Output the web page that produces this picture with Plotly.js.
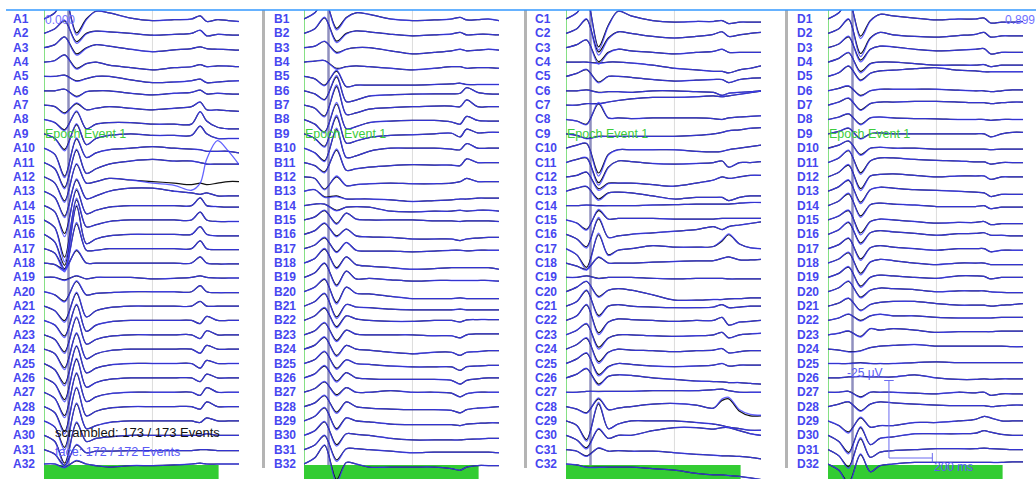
<!DOCTYPE html>
<html><head><meta charset="utf-8">
<script src="https://cdn.plot.ly/plotly-3.0.1.min.js"></script>
<style>html,body{margin:0;padding:0;background:#fff}#chart{width:1036px;height:479px}</style>
</head><body><div id="chart"></div>
<script>
const TIME_MS = [0,50,95,150,195,240,300,400,500,600,680,720,750,800,850,899];
const PANEL_IDS = ['A','B','C','D'];
const EVENT_MS = 113, GRID_MS = 500, BAR_END_MS = 805;
const SCALE_UV = 25, SCALE_MS = 200;

// values in µV (display polarity, up = positive), one row per channel 1..32
const scrA = [
[0,2,7,-4.5,0,2.5,2,0.3,-0.5,-0.2,0,1,-0.8,-0.2,-0.5,-0.8],
[0,1.5,4,-2.7,0,0.7,0.5,0,-0.6,-0.3,0,1,-0.8,-0.3,-0.5,-0.6],
[0,1,3.5,-2,0,1,0.5,-0.5,-1.3,-0.7,-0.3,0.3,-0.3,-0.5,-0.6,-0.8],
[0,0.5,2.3,-2,-0.5,0,-1,-1.8,-2.5,-1.8,-1.5,-0.8,-1.5,-1.2,-1.3,-1.5],
[0,0,0.4,-1.4,-0.7,0,0,-1.1,-2,-1.8,-1.4,-0.9,-2,-1.8,-1.5,-1.4],
[0,0,0.5,-1.8,-0.3,0,0,-0.8,-1.3,-0.8,-0.5,0.2,-1,-0.8,-1,-1.1],
[0,-0.5,-2.5,0.5,-1.5,-1,-0.5,-1,-1.5,-1,-0.5,1,-1.5,-1.5,-1.8,-2],
[0,-1,-3.3,2.5,-3,-1.5,-1,-1,-1.5,-1.5,-1.5,2.5,-0.5,-2.5,-3,-3],
[0,-1.5,-5,3,-3.5,-1.5,-0.5,0,-0.5,-0.5,-0.5,2.5,0,-1.5,-1.5,-1.5],
[0,-2,-9,3,-3,-1.5,-0.5,0,0.5,0,-0.3,-0.5,-1,-1,-1,-1.5],
[0,-2,-8,4,-3.5,-2,-0.5,0.5,1,0.5,0.5,0,-0.5,-0.5,-0.5,-0.5],
[0,-2,-7.7,4,-2,-1.5,-0.5,-1,-1.5,-2,-2.5,-2,-2.5,-2,-1.5,-1.5],
[0,-2,-8,3.7,-2.4,-1.5,0,1,1,0,-0.5,-1,-0.5,-1.5,-1.5,-1.5],
[0,-2,-9,5,-2.6,-1.5,-0.5,0,0,0,0,2.5,0,-0.3,-0.5,-0.5],
[0,-2.5,-12,6.5,-2.2,-1.5,-0.5,0,0,0,0,2.5,0,-0.5,-0.5,-0.5],
[0,-2.5,-10,9,-3,-1.5,-0.5,0,0,0,0,2.5,0,-0.5,-0.5,-0.5],
[0,-1.5,-6.5,8,-0.5,-0.5,0,0,0,0,0,2.5,0,-0.3,-0.3,-0.3],
[0,-0.5,-2,4,0,0,0,0,0,0,0,2,0,-0.3,-0.3,-0.3],
[0,0,-0.8,0.5,-0.5,0,0,0,-0.5,-0.3,0,0.5,0,-0.2,-0.2,-0.2],
[0,-1,-3,3.3,-1,-0.5,-0.3,0,0,0,0,2,0,-0.3,-0.3,-0.3],
[0,-1.5,-4.7,4.2,-3.5,-1.5,-0.5,0,0,0,0,1.5,0,0,0,0],
[0,-1.5,-5,5,-3.5,-1.5,-0.5,0,0,0,0,-1,1.3,0,0,0],
[0,-1.5,-5.5,5.5,-3,-1.5,-0.5,0,0,0,0,-1.2,1.3,0,0,0],
[0,-1.5,-6,5,-3.1,-1.5,-0.5,0,0,0,0,-1.3,1.2,0,0,0],
[0,-2,-6.5,5.5,-3,-1.5,-0.5,0,0,0,0,-1.5,1,0,0,0],
[0,-2,-7,6,-3,-1.5,-0.5,0,0,0,0,-1.2,1.2,0,0,0],
[0,-2,-7.5,6,-3,-1.5,-0.5,0,0,0,0,-1,1.5,0,0,0],
[0,-2,-8,6,-3,-1.5,-0.5,0,0,0,0,-0.8,1.5,0,0,0],
[0,-2,-8.5,5.5,-2.5,-1.5,-0.5,0,0,0,0,-0.5,1,0,0,0],
[0,-2,-9,4,-2,-1,-0.5,0,0,0,0,0,0.5,0,0,0],
[0,-1.5,-5,1.5,-1,-0.5,-0.5,-0.3,-0.3,-0.3,-0.3,0,0,-0.3,-0.3,-0.3],
[0,0,-1,1,0,-0.5,-1,-0.5,-0.5,-0.3,0,0.3,0,0,0,0]];
const faceA = [
[0,2,7.5,-5.2,-0.3,2.5,2,0.3,-0.5,-0.2,0,1,-0.8,-0.2,-0.5,-0.8],
[0,1.5,4.3,-3.2,-0.2,0.7,0.5,0,-0.6,-0.3,0,1,-0.8,-0.3,-0.5,-0.6],
[0,1,3.5,-2.4,-0.2,1,0.5,-0.5,-1.3,-0.7,-0.3,0.3,-0.3,-0.5,-0.6,-0.8],
[0,0.5,2.3,-2.3,-0.5,0,-1,-1.8,-2.5,-1.8,-1.5,-0.8,-1.5,-1.2,-1.3,-1.5],
[0,0,0.4,-1.6,-0.7,0,0,-1.1,-2,-1.8,-1.4,-0.9,-2,-1.8,-1.5,-1.4],
[0,0,0.5,-2,-0.3,0,0,-0.8,-1.3,-0.8,-0.5,0.2,-1,-0.8,-1,-1.1],
[0,-0.5,-2.8,0.7,-1.5,-1,-0.5,-1,-1.5,-1,-0.5,1,-1.5,-1.5,-1.8,-2],
[0,-1,-3.6,2.8,-3,-1.5,-1,-1,-1.5,-1.5,-1.5,2.5,-0.5,-2.5,-3,-3],
[0,-1.5,-5.5,3.3,-3.5,-1.5,-0.5,0,-0.5,-0.5,-0.5,2.5,0,-1.5,-1.5,-1.5],
[0,-2,-9.5,3.3,-3,-1.5,-0.5,0,0.5,0,-0.3,-0.5,-1,-1,-1,-1.5],
[0,-2,-8.5,4.3,-3.5,-2,-0.5,0.5,1,0.5,0.5,0,-0.5,-0.5,-0.5,-0.5],
[0,-2,-8.2,4.3,-2,-1.5,-0.5,-1,-2,-2.7,-4.3,-2,5.7,11.7,8.3,4],
[0,-2,-8.5,4,-2.4,-1.5,0,1,1,0,-0.5,-1,-0.5,-1.5,-1.5,-1.5],
[0,-2,-10,5.5,-2.6,-1.5,-0.5,0,0,0,0,2.5,0,-0.3,-0.5,-0.5],
[0,-2.5,-13.5,7,-2.2,-1.5,-0.5,0,0,0,0,2.5,0,-0.5,-0.5,-0.5],
[0,-2.5,-11.5,9.5,-3,-1.5,-0.5,0,0,0,0,2.5,0,-0.5,-0.5,-0.5],
[0,-1.5,-7.5,8.5,-0.5,-0.5,0,0,0,0,0,2.5,0,-0.3,-0.3,-0.3],
[0,-0.5,-2.5,4.3,0,0,0,0,0,0,0,2,0,-0.3,-0.3,-0.3],
[0,0,-1,0.6,-0.5,0,0,0,-0.5,-0.3,0,0.5,0,-0.2,-0.2,-0.2],
[0,-1,-3.3,3.6,-1,-0.5,-0.3,0,0,0,0,2,0,-0.3,-0.3,-0.3],
[0,-1.5,-5.2,4.5,-3.5,-1.5,-0.5,0,0,0,0,1.5,0,0,0,0],
[0,-1.5,-5.5,5.3,-3.5,-1.5,-0.5,0,0,0,0,-1,1.3,0,0,0],
[0,-1.5,-6,5.8,-3,-1.5,-0.5,0,0,0,0,-1.2,1.3,0,0,0],
[0,-1.5,-6.6,5.3,-3.1,-1.5,-0.5,0,0,0,0,-1.3,1.2,0,0,0],
[0,-2,-7.2,5.8,-3,-1.5,-0.5,0,0,0,0,-1.5,1,0,0,0],
[0,-2,-7.7,6.3,-3,-1.5,-0.5,0,0,0,0,-1.2,1.2,0,0,0],
[0,-2,-8.2,6.3,-3,-1.5,-0.5,0,0,0,0,-1,1.5,0,0,0],
[0,-2,-8.8,6.3,-3,-1.5,-0.5,0,0,0,0,-0.8,1.5,0,0,0],
[0,-2,-9.3,5.8,-2.5,-1.5,-0.5,0,0,0,0,-0.5,1,0,0,0],
[0,-2,-10,4.3,-2,-1,-0.5,0,0,0,0,0,0.5,0,0,0],
[0,-1.5,-5.5,1.7,-1,-0.5,-0.5,-0.3,-0.3,-0.3,-0.3,0,0,-0.3,-0.3,-0.3],
[0,0,-1.2,1.2,0,-0.5,-1,-0.5,-0.5,-0.3,0,0.3,0,0,0,0]];

const scrB = [
[0,2,6,-3,0.5,2,1.5,0,-0.5,-0.3,0,0.5,-0.3,-0.2,0,-0.5],
[0,1.5,5,-2.5,0,0.8,0.5,-0.3,-0.8,-0.5,-0.2,0.3,-0.5,-0.3,-0.3,-0.5],
[0,0.5,2,-1.5,-0.5,0,0,-1,-2,-1.5,-1,-0.5,-1,-0.8,-0.5,-0.8],
[0,0.3,0.5,-2,-1.5,-1.2,-1.5,-2,-2.5,-2,-1.5,-1.5,-2,-1.8,-1.8,-2],
[0,-0.8,-2.8,1.7,-3.3,-2.8,-2.8,-2.8,-2.8,-2.6,-2.4,-2.2,-2.6,-2.6,-2.6,-2.6],
[0,-1,-2.8,4.5,-3.5,-3,-1.7,-1.3,-1.1,-1,-1,-0.8,1,-0.5,-1,-1.1],
[0,-1,-3.5,6,-3,-2.5,-1.3,-0.8,-0.5,-0.3,-0.3,-0.5,1.7,-0.5,-0.5,-0.5],
[0,-1.5,-4,5,-3,-2.3,-1,-0.5,-0.3,-0.3,-0.8,-1.5,1,-0.3,-0.5,-0.5],
[0,-1.5,-4,5.5,-3,-2.3,-1.2,-0.5,-0.3,0,0.2,-1,1.5,0.3,0.5,0.5],
[0,-1.5,-4,6,-3,-2.5,-1,0,0,0,-0.3,-0.5,1.5,0,0,0],
[0,-1,-3,4,-2.5,-2,-1.5,-1,-0.7,-0.8,-0.8,-1,1.2,0,0,0],
[0,-0.5,-3.9,0,-2.8,-2.5,-2.2,-2,-2.2,-2.2,-2,-1.5,-0.5,-1.5,-1.5,-1.5],
[0,0.5,-1.8,-1.5,-2.5,-2.5,-2.5,-2.8,-3.3,-3,-2.8,-2.5,-2.5,-2.2,-2.2,-2.2],
[0,0.5,0.5,-1.5,-0.5,-0.3,-0.5,-1.8,-2,-1.8,-1.8,-1.5,-1.8,-1.5,-1.5,-1.8],
[0,1,3,-1.1,2.2,0.3,0,0,0,-0.3,-0.3,-0.5,-0.3,-0.3,-0.3,-0.5],
[0,1.2,3.5,-0.5,1.7,-0.5,-0.8,-1,-1.5,-1.5,-1.5,-2,-1.5,-1.2,-1,-1],
[0,1.2,3.5,-1,2,-0.5,-0.8,-0.8,-1,-0.8,-0.5,-0.5,-0.7,-0.5,-0.5,-0.5],
[0,1.5,4.5,-1.5,2,-0.5,-1,-1.5,-2,-1.8,-1.5,-1.5,-1.5,-1.5,-1.5,-2],
[0,1.5,4.5,-2.5,2,-0.5,-0.3,-0.8,-1.2,-1,-1,-1,-1,-1,-1,-1.2],
[0,1.5,4,-3.5,1.5,-0.5,-0.7,-1.5,-2.2,-2.2,-2.2,-2,-2.2,-2.2,-2.2,-2.2],
[0,1.5,4,-3.5,0.5,-0.3,-0.5,-1,-1.2,-1.2,-1.2,-1,-1.2,-1.2,-1.2,-1.2],
[0,1.5,4,-2,1.5,0.5,0,-0.3,-0.3,0,0,-0.5,0.2,0.3,0.3,0.3],
[0,1.3,3.8,-1.8,1.5,0.2,0,0,0,-0.3,-0.3,-1,0,0.3,0.3,0.3],
[0,1.3,3.8,-2,1.2,0,-0.3,-1,-1.5,-1,-1,-2,-1,-0.8,-0.5,-0.5],
[0,1.3,3.8,-1.5,1.2,0,-0.3,-0.8,-1.1,-1.1,-1.1,-2.2,-1,-0.8,-0.6,-0.6],
[0,1.3,3.8,-1,1.7,0,-0.3,-0.5,-0.5,-0.5,-0.8,-2,-0.8,-0.3,0,0],
[0,1.2,3.3,-0.8,1.5,0,0,0.5,0,0,-0.3,-1.5,-0.5,0,0,0],
[0,1.2,3.5,-1.8,1.5,0,-0.5,-0.8,-1,-1,-1.2,-2,-1,-0.5,-0.3,0],
[0,1.5,4.2,-2.5,1,0,-0.3,-1,-1.2,-1.2,-1.2,-1.5,-1,-0.8,-0.6,-0.6],
[0,1.5,4.3,-3,0.5,0.3,0,-1,-1.5,-1.5,-1.5,-1.5,-1.3,-1.2,-1,-1],
[0,1.5,4.5,-3.3,0.3,0.3,0,-0.5,-1,-0.8,-0.8,-0.8,-0.8,-0.8,-0.8,-1],
[0,2,6,-5,0.5,0,-1,-1,-1,-1,-1.5,-2,-1,-0.5,-0.5,-0.5]];
const faceB = [
[0,2,6.3,-3.5,0.3,2,1.5,0,-0.5,-0.3,0,0.5,-0.3,-0.2,0,-0.5],
[0,1.5,5.2,-3,-0.2,0.8,0.5,-0.3,-0.8,-0.5,-0.2,0.3,-0.5,-0.3,-0.3,-0.5],
[0,0.5,2.1,-1.8,-0.5,0,0,-1,-2,-1.5,-1,-0.5,-1,-0.8,-0.5,-0.8],
[0,0.3,0.5,-2.3,-1.5,-1.2,-1.5,-2,-2.5,-2,-1.5,-1.5,-2,-1.8,-1.8,-2],
[0,-0.8,-3,2,-3.3,-2.8,-2.8,-2.8,-2.8,-2.6,-2.4,-2.2,-2.6,-2.6,-2.6,-2.6],
[0,-1,-3,5,-3.5,-3,-1.7,-1.3,-1.1,-1,-1,-0.8,1,-0.5,-1,-1.1],
[0,-1,-3.8,6.5,-3,-2.5,-1.3,-0.8,-0.5,-0.3,-0.3,-0.5,1.7,-0.5,-0.5,-0.5],
[0,-1.5,-4.3,5.5,-3,-2.3,-1,-0.5,-0.3,-0.3,-0.8,-1.5,1,-0.3,-0.5,-0.5],
[0,-1.5,-4.3,6,-3,-2.3,-1.2,-0.5,-0.3,0,0.2,-1,1.5,0.3,0.5,0.5],
[0,-1.5,-4.3,6.5,-3,-2.5,-1,0,0,0,-0.3,-0.5,1.5,0,0,0],
[0,-1,-3.3,4.4,-2.5,-2,-1.5,-1,-0.7,-0.8,-0.8,-1,1.2,0,0,0],
[0,-0.5,-4.2,0.3,-2.8,-2.5,-2.2,-2,-2.2,-2.2,-2,-1.5,-0.5,-1.5,-1.5,-1.5],
[0,0.5,-2,-1.7,-2.5,-2.5,-2.5,-2.8,-3.3,-3,-2.8,-2.5,-2.5,-2.2,-2.2,-2.2],
[0,0.5,0.5,-1.7,-0.5,-0.3,-0.5,-1.8,-2,-1.8,-1.8,-1.5,-1.8,-1.5,-1.5,-1.8],
[0,1,3.2,-1.4,2.2,0.3,0,0,0,-0.3,-0.3,-0.5,-0.3,-0.3,-0.3,-0.5],
[0,1.2,3.7,-0.8,1.7,-0.5,-0.8,-1,-1.5,-1.5,-1.5,-2,-1.5,-1.2,-1,-1],
[0,1.2,3.7,-1.3,2,-0.5,-0.8,-0.8,-1,-0.8,-0.5,-0.5,-0.7,-0.5,-0.5,-0.5],
[0,1.5,4.7,-1.9,2,-0.5,-1,-1.5,-2,-1.8,-1.5,-1.5,-1.5,-1.5,-1.5,-2],
[0,1.5,4.7,-2.9,2,-0.5,-0.3,-0.8,-1.2,-1,-1,-1,-1,-1,-1,-1.2],
[0,1.5,4.2,-4,1.5,-0.5,-0.7,-1.5,-2.2,-2.2,-2.2,-2,-2.2,-2.2,-2.2,-2.2],
[0,1.5,4.2,-4,0.5,-0.3,-0.5,-1,-1.2,-1.2,-1.2,-1,-1.2,-1.2,-1.2,-1.2],
[0,1.5,4.2,-2.4,1.5,0.5,0,-0.3,-0.3,0,0,-0.5,0.2,0.3,0.3,0.3],
[0,1.3,4,-2.2,1.5,0.2,0,0,0,-0.3,-0.3,-1,0,0.3,0.3,0.3],
[0,1.3,4,-2.4,1.2,0,-0.3,-1,-1.5,-1,-1,-2,-1,-0.8,-0.5,-0.5],
[0,1.3,4,-1.9,1.2,0,-0.3,-0.8,-1.1,-1.1,-1.1,-2.2,-1,-0.8,-0.6,-0.6],
[0,1.3,4,-1.4,1.7,0,-0.3,-0.5,-0.5,-0.5,-0.8,-2,-0.8,-0.3,0,0],
[0,1.2,3.5,-1.2,1.5,0,0,0.5,0,0,-0.3,-1.5,-0.5,0,0,0],
[0,1.2,3.7,-2.2,1.5,0,-0.5,-0.8,-1,-1,-1.2,-2,-1,-0.5,-0.3,0],
[0,1.5,4.4,-2.9,1,0,-0.3,-1,-1.2,-1.2,-1.2,-1.5,-1,-0.8,-0.6,-0.6],
[0,1.5,4.5,-3.5,0.5,0.3,0,-1,-1.5,-1.5,-1.5,-1.5,-1.3,-1.2,-1,-1],
[0,1.5,4.7,-3.8,0.3,0.3,0,-0.5,-1,-0.8,-0.8,-0.8,-0.8,-0.8,-0.8,-1],
[0,2,6.2,-6,0.5,0,-1,-1,-1,-1,-1.5,-2,-1,-0.5,-0.5,-0.5]];

const scrC = [
[0,2,6,-9,-2,2.5,1,-0.5,-1,-0.8,-0.8,-0.5,-1.5,-1,-1,-1],
[0,1.5,4.5,-6,-1.5,0.5,0,-1,-1.5,-1,-0.3,0.5,-1,-0.5,0,0.3],
[0,1,2.5,-4.5,-1.5,-0.5,-1,-1.5,-2,-1.5,-1.2,-0.5,-1.5,-1.5,-1.5,-1.5],
[0,0,0,-0.3,0,0,-0.3,-1,-2,-2.5,-3,-3,-3.5,-2.5,-2,-1.2],
[0,1,2.2,-1.8,0,0,-0.3,-1,-1.5,-1.2,-1,-1,-2,-1,-0.6,-0.5],
[0,0,0.3,-0.5,-0.3,-0.3,-0.5,0,0,-0.3,-0.5,-1.5,-0.8,-0.5,-0.3,0],
[0,0,0.5,0.5,1,1.5,2,2.5,2.5,2.7,3,2.7,3,3.5,4,4.5],
[0,-0.5,-1.5,5,0.5,0.5,0.3,0.5,0.5,0.5,0.3,0,0.5,0.8,1,1.2],
[0,-0.5,-1.5,-0.8,-0.8,-0.8,-0.8,-0.8,-0.8,-0.5,0,0.5,1,1.3,1.8,2],
[0,1,1.5,-8,-2,-0.5,-0.5,-0.5,-0.5,-1,-1.2,-1,-0.5,0,0.5,1],
[0,1,1.5,-6.5,-1.5,0.5,0.3,-0.3,-0.5,-0.3,0,0.5,-1.5,0,0,0.3],
[0,0.5,1.5,-3.8,-2,-2,-2,-2.5,-3,-2,-1,0,-0.5,0,0.5,0.5],
[0,1,1.5,-2.5,-0.5,-0.3,-0.5,-1.5,-2.5,-2,-2,-2,-3,-2,-1.5,-1.5],
[0,0,0.2,0,0,0,0,0.2,0.3,0.5,0.5,0.5,0.5,0.8,1,1],
[0,-1,-3,3,0.3,0.5,0.5,0.5,0.3,0.3,0.3,0.5,0.5,0.5,0.5,0.5],
[0,-1.5,-4,5,-1,-0.5,0,0.5,1,1.5,2.5,1.5,2.5,3,3.5,4],
[0,-2,-6,4.5,-2,-0.5,0,1,0.5,0.5,0.7,2.5,4.5,1.5,0.3,0],
[0,-1,-2,1.8,0,0,0,0.3,0.5,0.7,0.8,1.5,2,1,1,1.2],
[0,0,0.5,-0.3,0,0,0,-0.3,-0.5,-0.3,-0.3,-0.3,-0.5,-0.5,-0.5,-0.5],
[0,1.5,3.3,-1.5,0.5,1,0.5,-1,-2.7,-2.7,-2.5,-2.5,-2.3,-2.2,-2,-2],
[0,1.5,5,-3,0,0.5,0,-0.3,-0.5,-0.5,-0.3,0.5,-0.5,-0.3,0,0],
[0,1.5,5,-4,-0.5,0.5,0.3,0,-0.3,0,0,1,-1.5,-0.5,-0.3,0],
[0,1.5,3.5,-4,-1,0,0,-0.3,-0.5,-0.3,0,0.8,-1,0,0.3,0.5],
[0,1.5,3.5,-4,-1,0,-0.3,-0.5,-0.8,-0.5,-0.3,0.2,-1.2,-0.8,-0.5,-0.5],
[0,1.5,3.3,-3.5,-1,0,-0.3,-0.8,-1,-0.8,-0.5,0,-0.8,-0.5,-0.5,-0.5],
[0,1.2,3,-2,0.5,1,0.8,0,-0.5,-1,-1.2,-1.3,-1.5,-1.5,-1.8,-2],
[0,0,0.3,0.3,0.3,0.3,0.3,0.5,0.5,0.5,0.8,1,0.5,0,0,0],
[0,-0.8,-2,2.5,-1,-0.5,0,0.8,1,0.5,-0.5,2,2.5,-1.5,-3,-3],
[0,-1.5,-6,5.5,-2.5,-1,0,0,0,-0.5,-1,-1.5,-2,-2.5,-3,-3],
[0,-1.5,-4,2,-1,0,0,1.5,2.5,2.5,2,2.5,2.5,1.5,0.5,0],
[0,-0.5,-2,0.5,-0.5,-0.3,-0.5,-0.5,-1,-1.5,-1.8,-2,-2,-2.2,-2.5,-3],
[0,-0.3,-1,-1,-1,-1,-1,-1.5,-2,-3,-3.5,-3.5,-3.7,-4,-4.5,-5]];
const faceC = [
[0,2,6.3,-10,-2.3,2.5,1,-0.5,-1,-0.8,-0.8,-0.5,-1.5,-1,-1,-1],
[0,1.5,4.7,-7,-1.8,0.5,0,-1,-1.5,-1,-0.3,0.5,-1,-0.5,0,0.3],
[0,1,2.6,-5.3,-1.7,-0.5,-1,-1.5,-2,-1.5,-1.2,-0.5,-1.5,-1.5,-1.5,-1.5],
[0,0,0,-0.5,0,0,-0.3,-1,-2,-2.5,-3,-3,-3.5,-2.5,-2,-1.2],
[0,1,2.3,-2.1,0,0,-0.3,-1,-1.5,-1.2,-1,-1,-2,-1,-0.6,-0.5],
[0,0,0.3,-0.6,-0.3,-0.3,-0.5,0,0,-0.3,-0.5,-1.5,-0.8,-0.5,-0.3,0],
[0,0,0.5,0.4,1,1.5,2,2.5,2.5,2.7,3,2.7,3,3.5,4,4.5],
[0,-0.5,-1.7,5.5,0.5,0.5,0.3,0.5,0.5,0.5,0.3,0,0.5,0.8,1,1.2],
[0,-0.5,-1.6,-0.9,-0.8,-0.8,-0.8,-0.8,-0.8,-0.5,0,0.5,1,1.3,1.8,2],
[0,1,1.6,-9,-2.2,-0.5,-0.5,-0.5,-0.5,-1,-1.2,-1,-0.5,0,0.5,1],
[0,1,1.6,-7.3,-1.7,0.5,0.3,-0.3,-0.5,-0.3,0,0.5,-1.5,0,0,0.3],
[0,0.5,1.6,-4.3,-2.2,-2,-2,-2.5,-3,-2,-1,0,-0.5,0,0.5,0.5],
[0,1,1.6,-2.9,-0.6,-0.3,-0.5,-1.5,-2.5,-2,-2,-2,-3,-2,-1.5,-1.5],
[0,0,0.2,-0.1,0,0,0,0.2,0.3,0.5,0.5,0.5,0.5,0.8,1,1],
[0,-1,-3.3,3.4,0.3,0.5,0.5,0.5,0.3,0.3,0.3,0.5,0.5,0.5,0.5,0.5],
[0,-1.5,-4.4,5.5,-1,-0.5,0,0.5,1,1.5,2.5,1.5,2.5,3,3.5,4],
[0,-2,-6.8,5,-2.2,-0.5,0,1,0.5,0.5,0.7,2.8,4.8,1.5,0.3,0],
[0,-1,-2.3,2,0,0,0,0.3,0.5,0.7,0.8,1.5,2,1,1,1.2],
[0,0,0.5,-0.4,0,0,0,-0.3,-0.5,-0.3,-0.3,-0.3,-0.5,-0.5,-0.5,-0.5],
[0,1.5,3.4,-1.8,0.5,1,0.5,-1,-2.7,-2.7,-2.5,-2.5,-2.3,-2.2,-2,-2],
[0,1.5,5.2,-3.5,0,0.5,0,-0.3,-0.5,-0.5,-0.3,0.5,-0.5,-0.3,0,0],
[0,1.5,5.2,-4.6,-0.6,0.5,0.3,0,-0.3,0,0,1,-1.5,-0.5,-0.3,0],
[0,1.5,3.7,-4.6,-1.1,0,0,-0.3,-0.5,-0.3,0,0.8,-1,0,0.3,0.5],
[0,1.5,3.7,-4.6,-1.1,0,-0.3,-0.5,-0.8,-0.5,-0.3,0.2,-1.2,-0.8,-0.5,-0.5],
[0,1.5,3.5,-4,-1.1,0,-0.3,-0.8,-1,-0.8,-0.5,0,-0.8,-0.5,-0.5,-0.5],
[0,1.2,3.1,-2.4,0.5,1,0.8,0,-0.5,-1,-1.2,-1.3,-1.5,-1.5,-1.8,-2],
[0,0,0.3,0.2,0.3,0.3,0.3,0.5,0.5,0.5,0.8,1,0.5,0,0,0],
[0,-0.8,-2.2,2.8,-1,-0.5,0,0.8,1,0.5,-0.5,2.5,3,-1,-2.5,-2.8],
[0,-1.5,-6.5,6,-2.5,-1,0,0,0,-0.5,-1,-1.5,-2,-2.5,-3,-3],
[0,-1.5,-4.4,2.2,-1,0,0,1.5,2.5,2.5,2,2.5,2.5,1.5,0.5,0],
[0,-0.5,-2.2,0.6,-0.5,-0.3,-0.5,-0.5,-1,-1.5,-1.8,-2,-2,-2.2,-2.5,-3],
[0,-0.3,-1.1,-1.1,-1,-1,-1,-1.5,-2,-3,-3.5,-3.5,-3.7,-4,-4.5,-5]];

const scrD = [
[0,2,6,-5.5,-0.5,1.5,1,0.3,-0.3,0,0,0.3,-1.3,-1,-1,-0.8],
[0,1.5,4.5,-6.5,-1.5,0.3,-0.5,-1,-1.2,-0.7,-0.3,0.3,-1.2,-0.8,-0.8,-0.8],
[0,1.2,3.5,-4,-0.5,0.5,0.3,-0.5,-1,-0.8,-0.5,-0.3,-2,-1.5,-1.5,-1.5],
[0,1.2,3,-3,-0.5,0,0,-0.5,-1,-1,-1,-0.8,-1.5,-1,-1,-1],
[0,1.2,3.3,-1.2,1,1.8,2,2.5,2.8,2,1.8,1.5,1.5,1.5,1.5,1.5],
[0,0.8,1.5,-1.5,0,0.5,0.5,0.5,0.5,0.2,0,0,-0.3,0,0.3,0.3],
[0,1,2.2,-1.5,0.5,1,1,1.2,1.2,1,0.8,0.8,0.5,0.8,1,1],
[0,0.8,1.8,-1.5,0.5,0.8,0.5,0.3,0.2,0,0,0,-0.3,0,0,0],
[0,0.8,1.8,-1.5,0,0.3,0,0,0,0,0,0,-1,0,0.5,0.5],
[0,1,2.3,-2,0,0.3,0,0,-0.3,-0.3,-0.3,-0.3,-0.5,-0.3,-0.3,-0.3],
[0,1.5,3.8,-3.3,0.5,1.5,1.5,1,0.7,0.5,0.2,0.2,-0.5,0,0,0],
[0,1.5,3.8,-3.8,0.3,0.8,1,0.5,0,0.3,0.3,0.3,-0.8,0,0,0],
[0,1.5,3.5,-3.5,0.5,1.3,1,0.5,0.3,0,-0.3,-0.5,-1.7,-1,-1,-1],
[0,1.5,3.8,-3.3,0.3,0.8,0.5,0.2,-0.3,-0.3,-0.3,0,-1,-0.5,-0.5,-0.5],
[0,1.3,3,-4.2,-0.5,0.3,0,-0.5,-1,-0.8,-0.8,-0.5,-1.5,-1.2,-1.2,-1.2],
[0,1.5,3.8,-2.8,0.5,1.2,0.8,0.3,-0.3,0.2,0.3,0.5,-0.3,-0.3,-0.5,-0.5],
[0,1.3,3.3,-3.3,0.3,1,0.5,0,-0.5,0,0,0,-1,-0.5,-0.5,-0.5],
[0,1.3,3.3,-3.3,0.3,1.2,0.8,0,-0.5,0,0,0,-0.5,-0.5,-0.5,-0.5],
[0,1.3,3.3,-2.8,0,0.7,0.5,0,-0.3,0.5,0.5,0.3,-0.5,0,0,0],
[0,1.3,3.3,-1.7,0.5,1.2,1,0.7,0,0.3,0.3,0.3,0,-0.2,-0.3,-0.3],
[0,1,2.5,-1.3,0.5,1.2,1.5,1.5,0.8,0.3,0.3,0.3,0,0.3,0.5,0.8],
[0,0.8,2,0,1.5,2,1.5,1.5,1,0.8,0.8,0.8,0.8,1,1,1],
[0,0.5,1.2,-0.5,2,1.5,2,1.5,0.8,1,1,1,1,1.2,1.2,1.2],
[0,-0.3,-0.8,-0.5,0.5,1,1.2,1.5,1,1,1,1,1,1,0.8,0.8],
[0,0,0,0.3,0,0,0,0.3,0.5,0.3,0.3,0.3,0.3,0.3,0.3,0.3],
[0,0,0.3,0.5,0.3,0.3,0.3,1,0,-0.5,-0.5,-0.3,-0.5,-0.3,-0.3,-0.3],
[0,0,0.3,-1.5,0,0,0,-0.3,-0.5,0,-0.2,0,-1,-0.5,-0.5,-0.5],
[0,0.8,1.5,-1.3,0.8,1.5,1.2,0.8,0.5,0.3,0.3,0.3,0,0.3,0.5,0.5],
[0,-1.5,-3.5,1,-2,-1.5,-1.5,-0.5,-0.5,0,0.5,1.5,1,0,0,0],
[0,-2,-5.5,2.5,-3,-1,-0.5,0.5,0.5,0.5,0.7,1.5,1,0.3,0,0],
[0,-2,-5.5,3.5,-2.5,-0.8,-0.3,0,0.3,0.3,0.3,0.5,0.3,0.2,0,0],
[0,-2,-6,3,-2.5,-0.5,0,0.5,0.5,0.5,0.5,0.5,0.5,0.5,0.7,0.7]];
const faceD = [
[0,2,6.3,-6.3,-0.7,1.5,1,0.3,-0.3,0,0,0.3,-1.3,-1,-1,-0.8],
[0,1.5,4.7,-7.5,-1.7,0.3,-0.5,-1,-1.2,-0.7,-0.3,0.3,-1.2,-0.8,-0.8,-0.8],
[0,1.2,3.7,-4.6,-0.6,0.5,0.3,-0.5,-1,-0.8,-0.5,-0.3,-2,-1.5,-1.5,-1.5],
[0,1.2,3.1,-3.5,-0.6,0,0,-0.5,-1,-1,-1,-0.8,-1.5,-1,-1,-1],
[0,1.2,3.4,-1.4,1,1.8,2,2.5,2.8,2,1.8,1.5,1.5,1.5,1.5,1.5],
[0,0.8,1.6,-1.7,0,0.5,0.5,0.5,0.5,0.2,0,0,-0.3,0,0.3,0.3],
[0,1,2.3,-1.7,0.5,1,1,1.2,1.2,1,0.8,0.8,0.5,0.8,1,1],
[0,0.8,1.9,-1.7,0.5,0.8,0.5,0.3,0.2,0,0,0,-0.3,0,0,0],
[0,0.8,1.9,-1.7,0,0.3,0,0,0,0,0,0,-1,0,0.5,0.5],
[0,1,2.4,-2.3,0,0.3,0,0,-0.3,-0.3,-0.3,-0.3,-0.5,-0.3,-0.3,-0.3],
[0,1.5,4,-3.8,0.5,1.5,1.5,1,0.7,0.5,0.2,0.2,-0.5,0,0,0],
[0,1.5,4,-4.4,0.3,0.8,1,0.5,0,0.3,0.3,0.3,-0.8,0,0,0],
[0,1.5,3.7,-4,0.5,1.3,1,0.5,0.3,0,-0.3,-0.5,-1.7,-1,-1,-1],
[0,1.5,4,-3.8,0.3,0.8,0.5,0.2,-0.3,-0.3,-0.3,0,-1,-0.5,-0.5,-0.5],
[0,1.3,3.2,-4.8,-0.6,0.3,0,-0.5,-1,-0.8,-0.8,-0.5,-1.5,-1.2,-1.2,-1.2],
[0,1.5,4,-3.2,0.5,1.2,0.8,0.3,-0.3,0.2,0.3,0.5,-0.3,-0.3,-0.5,-0.5],
[0,1.3,3.5,-3.8,0.3,1,0.5,0,-0.5,0,0,0,-1,-0.5,-0.5,-0.5],
[0,1.3,3.5,-3.8,0.3,1.2,0.8,0,-0.5,0,0,0,-0.5,-0.5,-0.5,-0.5],
[0,1.3,3.5,-3.2,0,0.7,0.5,0,-0.3,0.5,0.5,0.3,-0.5,0,0,0],
[0,1.3,3.5,-2,0.5,1.2,1,0.7,0,0.3,0.3,0.3,0,-0.2,-0.3,-0.3],
[0,1,2.6,-1.5,0.5,1.2,1.5,1.5,0.8,0.3,0.3,0.3,0,0.3,0.5,0.8],
[0,0.8,2.1,-0.2,1.5,2,1.5,1.5,1,0.8,0.8,0.8,0.8,1,1,1],
[0,0.5,1.3,-0.7,2,1.5,2,1.5,0.8,1,1,1,1,1.2,1.2,1.2],
[0,-0.3,-0.9,-0.6,0.5,1,1.2,1.5,1,1,1,1,1,1,0.8,0.8],
[0,0,0,0.2,0,0,0,0.3,0.5,0.3,0.3,0.3,0.3,0.3,0.3,0.3],
[0,0,0.3,0.4,0.3,0.3,0.3,1,0,-0.5,-0.5,-0.3,-0.5,-0.3,-0.3,-0.3],
[0,0,0.3,-1.7,0,0,0,-0.3,-0.5,0,-0.2,0,-1,-0.5,-0.5,-0.5],
[0,0.8,1.6,-1.5,0.8,1.5,1.2,0.8,0.5,0.3,0.3,0.3,0,0.3,0.5,0.5],
[0,-1.5,-3.9,1.2,-2,-1.5,-1.5,-0.5,-0.5,0,0.5,1.5,1,0,0,0],
[0,-2,-6,2.8,-3,-1,-0.5,0.5,0.5,0.5,0.7,1.5,1,0.3,0,0],
[0,-2,-6,3.9,-2.5,-0.8,-0.3,0,0.3,0.3,0.3,0.5,0.3,0.2,0,0],
[0,-2,-6.6,3.3,-2.5,-0.5,0,0.5,0.5,0.5,0.5,0.5,0.5,0.5,0.7,0.7]];

const SCR_DATA = [scrA, scrB, scrC, scrD];
const FACE_DATA = [faceA, faceB, faceC, faceD];

// ---------- geometry ----------
const W = 1036, H = 479, TOP = 10;
const ROW_PX = 14.355, PX_PER_UV = 3.1;
const PANEL_X0 = [44, 304, 566, 828];     // left edge of the traces (t = 0)
const LABEL_X = [10.5, 271.5, 533, 795];
const SEP_X = [262, 524, 785];
const PANEL_W = 195;                       // 899 ms
const yTop = (19 - TOP) / ROW_PX;
const yBot = yTop - (H - TOP) / ROW_PX;
const yPx = p => yTop - (p - TOP) / ROW_PX;
const K = PX_PER_UV / ROW_PX;

const traces = [];
const layout = {
  width: W, height: H, margin: {l:0, r:0, t:TOP, b:0},
  paper_bgcolor: '#fff', plot_bgcolor: '#fff', showlegend: false,
  yaxis: {domain:[0,1], range:[yBot, yTop], visible:false, fixedrange:true},
  shapes: [], annotations: [],
  font: {family: 'Liberation Sans, Arial, sans-serif'}
};
const blue = '#4646f0';

PANEL_IDS.forEach((id, pi) => {
  const ax = pi === 0 ? 'x' : 'x' + (pi + 1);
  const axKey = pi === 0 ? 'xaxis' : 'xaxis' + (pi + 1);
  layout[axKey] = {domain:[PANEL_X0[pi] / W, (PANEL_X0[pi] + PANEL_W) / W], range:[0, 899],
                   visible:false, fixedrange:true, anchor:'y'};
  const bandTop = yPx(465);
  layout.shapes.push(
    {type:'rect', xref:ax, yref:'y', x0:0, x1:BAR_END_MS, y0:yBot, y1:bandTop, layer:'below',
     fillcolor:'#33cc33', line:{width:0}},
    {type:'line', xref:ax, yref:'y', x0:GRID_MS, x1:GRID_MS, y0:bandTop, y1:yTop, layer:'below',
     line:{color:'#dcdcdc', width:1}},
    {type:'line', xref:ax, yref:'y', x0:EVENT_MS, x1:EVENT_MS, y0:bandTop, y1:yTop, layer:'below',
     line:{color:'#8f8fbf', width:2.5}},
    {type:'line', xref:ax, yref:'y', x0:0, x1:0, y0:bandTop, y1:yTop, layer:'below',
     line:{color:'#33cc33', width:1.2}}
  );
  [[SCR_DATA[pi], '#111111', 1.2, 1], [FACE_DATA[pi], '#3c3cff', 1.3, 0.8]].forEach(([rows, color, w, op]) => {
    rows.forEach((row, k) => {
      traces.push({type:'scatter', mode:'lines', x:TIME_MS, y:row.map(v => -k + v * K),
        xaxis:ax, yaxis:'y', opacity:op, hoverinfo:'skip',
        line:{color:color, width:w, shape:'spline', smoothing:0.9}});
    });
  });
  for (let k = 0; k < 32; k++) {
    layout.annotations.push({xref:'paper', yref:'y', x:LABEL_X[pi] / W, y:-k, xanchor:'left', yanchor:'middle',
      showarrow:false, text:'<b>' + id + (k + 1) + '</b>', font:{size:12, color:blue}});
  }
  layout.annotations.push({xref:'paper', yref:'y', x:(PANEL_X0[pi] - 1) / W, y:-8, xanchor:'left', yanchor:'middle',
    showarrow:false, text:'Epoch Event 1', font:{size:12.5, color:'#3ccc3c'}});
});

// panel separators and top border
SEP_X.forEach(x => layout.shapes.push({type:'rect', xref:'paper', yref:'paper', x0:x / W, x1:(x + 3) / W,
  y0:(H - 468) / (H - TOP), y1:1, fillcolor:'#b4b4b4', line:{width:0}}));
layout.shapes.push({type:'line', xref:'paper', yref:'paper', x0:6 / W, x1:1, y0:1, y1:1,
  line:{color:'#3399ff', width:1.5}});

// scale bar in panel D
const sbX = 281, sbY0 = yPx(458);
layout.shapes.push(
  {type:'line', xref:'x4', yref:'y', x0:sbX, x1:sbX, y0:sbY0, y1:sbY0 + SCALE_UV * K, line:{color:'#6a6af0', width:1}},
  {type:'line', xref:'x4', yref:'y', x0:sbX - 22, x1:sbX + 22, y0:sbY0 + SCALE_UV * K, y1:sbY0 + SCALE_UV * K, line:{color:'#6a6af0', width:1}},
  {type:'line', xref:'x4', yref:'y', x0:sbX, x1:sbX + SCALE_MS, y0:sbY0, y1:sbY0, line:{color:'#6a6af0', width:1}},
  {type:'line', xref:'x4', yref:'y', x0:sbX + SCALE_MS, x1:sbX + SCALE_MS, y0:sbY0 - 0.3, y1:sbY0 + 0.35, line:{color:'#6a6af0', width:1}}
);
const txt = (text, xpx, ypx, anchor, color, size) => layout.annotations.push({xref:'paper', yref:'y',
  x:xpx / W, y:yPx(ypx), xanchor:anchor, yanchor:'middle', showarrow:false, text:text, font:{size:size || 12, color:color}});
txt('-25 µV', 885, 373, 'right', '#5a5af5');
txt('200 ms', 932, 467, 'left', '#5a5af5');
txt('0.000', 43, 20, 'left', '#7272ff');
txt('0.899', 1037, 20, 'right', '#7272ff');
txt('scrambled: 173 / 173 Events', 53, 432, 'left', '#111111', 13);
txt('face: 172 / 172 Events', 53, 452, 'left', '#5a5af5', 12.6);

Plotly.newPlot('chart', traces, layout, {staticPlot:true, displayModeBar:false});
</script></body></html>
